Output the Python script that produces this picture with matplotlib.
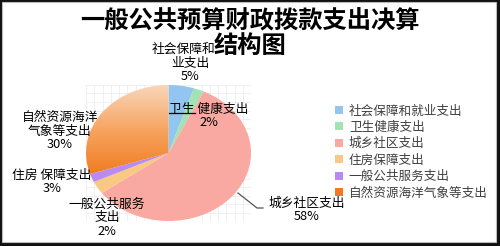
import numpy as np
import matplotlib.pyplot as plt
from matplotlib.patches import Rectangle
from matplotlib.colors import LinearSegmentedColormap

plt.rcParams['font.family'] = ['Noto Sans CJK SC', 'DejaVu Sans']

categories = ['社会保障和就业支出', '卫生健康支出', '城乡社区支出',
              '住房保障支出', '一般公共服务支出', '自然资源海洋气象等支出']
shares = [5, 2, 58, 3, 2, 30]
colors = ['#92C6F0', '#A3E2B2', '#F9A9A1', '#F9C882', '#B98BF0', '#F28A35']
labels = ['社会保障和就\n业支出\n5%', '卫生 健康支出\n2%', '城乡社区支出\n58%',
          '住房 保障支出\n3%', '一般公共服务\n支出\n2%', '自然资源海洋\n气象等支出\n30%']

W, H = 500, 246
fig = plt.figure(figsize=(W / 100, H / 100), dpi=100)

# frame with shadow on right/bottom
fig.patches.append(Rectangle((0, 0), 1, 1, transform=fig.transFigure,
                             facecolor='#111111', edgecolor='none', zorder=-3))
fig.patches.append(Rectangle((2 / W, 4 / H), (W - 6) / W, (H - 6) / H,
                             transform=fig.transFigure, facecolor='white',
                             edgecolor='#bbbbbb', lw=0.8, zorder=-2))

ax = fig.add_axes([86 / W, 25 / H, 165 / W, 136 / H])
wedges, _ = ax.pie(shares, colors=colors, startangle=90, counterclock=False,
                   radius=1, wedgeprops=dict(linewidth=0))
ax.set_aspect('auto')
ax.set_xticks(np.linspace(-1, 1, 21))
ax.set_yticks(np.linspace(-1, 1, 17))
ax.grid(color='#eeeeee', lw=0.6)
ax.set_axisbelow(True)
ax.tick_params(length=0, labelbottom=False, labelleft=False)
for s in ax.spines.values():
    s.set_visible(False)

# gradient fill on the last wedge
cmap = LinearSegmentedColormap.from_list('g', ['#F9D6BA', '#F7A35E', '#F07A1E'])
grad = np.linspace(0, 1, 256).reshape(-1, 1)
img = ax.imshow(grad, cmap=cmap, extent=[-1, 1, -0.35, 1], aspect='auto',
                origin='upper', zorder=wedges[-1].get_zorder())
img.set_clip_path(wedges[-1])
wedges[-1].set_facecolor('none')
ax.set_xlim(-1, 1)
ax.set_ylim(-1, 1)

# data labels (figure pixel positions, top-left origin)
label_pos = [(190, 63), (209, 116), (307, 210), (52, 182), (107, 218), (60, 131)]
for lab, (px, py) in zip(labels, label_pos):
    fig.text(px / W, 1 - py / H, lab, ha='center', va='center', fontsize=9.2,
             linespacing=1.05, color='black', zorder=3)

# leader lines
fig.add_artist(plt.Line2D([238 / W, 257 / W, 263 / W],
                          [1 - 193 / H, 1 - 208 / H, 1 - 208 / H],
                          transform=fig.transFigure, color='#555555', lw=0.9))
fig.add_artist(plt.Line2D([169 / W, 195 / W], [1 - 113 / H, 1 - 113 / H],
                          transform=fig.transFigure, color='black', lw=0.9))

fig.text(0.5, 1 - 22 / H, '一般公共预算财政拨款支出决算', ha='center', va='center',
         fontsize=17.5, fontweight='bold', zorder=5)
fig.text(0.5, 1 - 46 / H, '结构图', ha='center', va='center',
         fontsize=17.5, fontweight='bold', zorder=5,
         bbox=dict(facecolor='white', edgecolor='none', pad=0))

legend_colors = colors[:5] + ['#F27A1E']
handles = [Rectangle((0, 0), 1, 1, facecolor=c, edgecolor='none') for c in legend_colors]
fig.legend(handles, categories, loc='center left', bbox_to_anchor=(335 / W, 1 - 152 / H),
           frameon=False, fontsize=9.1, handlelength=0.6, handleheight=0.6,
           handletextpad=0.5, labelspacing=0.27, labelcolor='#404040',
           borderaxespad=0, borderpad=0)

fig.savefig('out.png', dpi=100)
